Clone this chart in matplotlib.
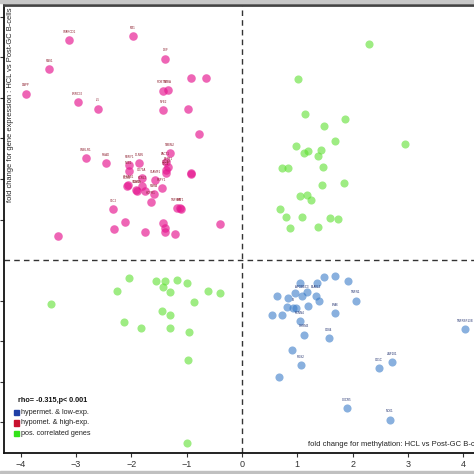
import matplotlib
matplotlib.use("Agg")
import matplotlib.pyplot as plt
from matplotlib.patches import Rectangle

# ---------------- data ----------------
mag_x = [-3.12, -1.97, -1.39, -3.49, -0.93, -0.65, -1.43, -1.34, -3.91, -2.97,
         -2.60, -1.42, -0.98, -0.77, -1.30, -2.82, -2.46, -2.04, -1.86, -2.05,
         -1.38, -1.34, -1.37, -1.38, -0.92, -0.92, -1.81, -1.57, -2.06, -2.08,
         -1.80, -1.92, -1.90, -1.75, -1.45, -1.60, -1.65, -2.33, -1.18, -1.12,
         -1.10, -2.12, -1.43, -1.39, -1.39, -2.31, -1.75, -1.22, -0.40, -3.32]
mag_y = [5.43, 5.53, 4.97, 4.72, 4.49, 4.50, 4.18, 4.20, 4.11, 3.90,
         3.74, 3.70, 3.74, 3.10, 2.64, 2.51, 2.40, 2.35, 2.40, 2.20,
         2.41, 2.30, 2.22, 2.16, 2.12, 2.14, 2.02, 1.97, 1.85, 1.83,
         1.83, 1.73, 1.71, 1.70, 1.77, 1.62, 1.44, 1.25, 1.28, 1.28,
         1.26, 0.94, 0.91, 0.78, 0.68, 0.77, 0.68, 0.65, 0.90, 0.59]
mag_labels = ["SPARCD1", "MT1", "DEF", "RAS1", "", "", "ROBTS1", "NFRA", "DAPP", "LRRC32",
              "IL5", "NFE2", "", "", "TMEM2", "CMKLR1", "PGAD", "FBRY1", "DLNIN", "NKE1",
              "FACT1", "ETFB1", "CD2AP", "SLC4", "", "", "CD79A", "SLAMF1", "STRAB1", "CCR4",
              "FCRL2", "BLK1", "SCARA", "", "PXPY1", "RARA", "HCPR1", "SLC2", "TNFSF9", "MAT1",
              "", "", "", "", "", "", "", "", "", ""]

green_x = [2.29, 1.02, 1.14, 1.86, 1.49, 1.69, 2.94, 0.98, 1.12, 1.19,
           1.43, 1.38, 0.72, 0.84, 1.46, 1.45, 1.84, 1.05, 1.18, 1.24,
           0.69, 0.80, 1.08, 1.59, 1.74, 0.87, 1.37,
           -2.05, -1.55, -1.39, -1.18, -0.99, -1.43, -2.26, -1.30, -0.62, -0.40,
           -0.86, -3.45, -1.44, -1.31, -2.13, -1.82, -1.30, -0.96, -0.98, -1.00]
green_y = [5.33, 4.47, 3.60, 3.47, 3.32, 2.93, 2.87, 2.81, 2.64, 2.70,
           2.72, 2.58, 2.27, 2.27, 2.29, 1.86, 1.91, 1.58, 1.60, 1.48,
           1.26, 1.05, 1.05, 1.04, 1.01, 0.78, 0.81,
           -0.44, -0.52, -0.52, -0.49, -0.58, -0.66, -0.76, -0.78, -0.76, -0.81,
           -1.03, -1.08, -1.26, -1.37, -1.54, -1.68, -1.68, -1.79, -2.46, -4.53]

blue_x = [1.48, 1.68, 1.91, 1.05, 1.35, 0.95, 1.18, 0.64, 0.83, 1.08,
          1.33, 1.39, 2.06, 1.19, 0.82, 0.92, 0.97, 1.68, 0.54, 0.73,
          1.04, 4.03, 1.12, 1.57, 0.91, 1.07, 2.47, 2.72, 0.67, 1.90, 2.67]
blue_y = [-0.41, -0.40, -0.51, -0.58, -0.57, -0.81, -0.80, -0.88, -0.95, -0.88,
          -0.88, -1.00, -1.00, -1.13, -1.17, -1.19, -1.19, -1.32, -1.37, -1.37,
          -1.51, -1.70, -1.84, -1.93, -2.21, -2.60, -2.67, -2.53, -2.88, -3.65, -3.94]
blue_labels = ["", "", "", "", "", "", "", "", "", "APOBEC3",
               "ELAVL2", "", "TNFN1", "", "", "B", "", "LPA6", "", "",
               "KCNN4", "TNFRSF13B", "CHRM3", "CD84", "", "RGS2", "CD1C", "ZNF101", "", "CXCR5", "NCK1"]

legend_labels = ["hypermet. & low-exp.", "hypomet. & high-exp.", "pos. correlated genes"]
legend_colors = ["#1f3fa6", "#c8102e", "#33e21a"]
stat_text = "rho= -0.315,p< 0.001"
xticks = [-4, -3, -2, -1, 0, 1, 2, 3, 4]
yticks = [-4, -3, -2, -1, 1, 2, 3, 4, 5, 6]

# ---------------- figure ----------------
W = H = 474
fig = plt.figure(figsize=(4.74, 4.74), dpi=100)
plt.rcParams['font.family'] = ['Liberation Sans', 'DejaVu Sans']

px_left, px_top, px_bottom = 4, 5, 453
x0_px, px_per_x = 242, 55.3
y0_px, px_per_y = 260, 40.5
xmin = (px_left - x0_px) / px_per_x
xmax = 4.6
ymax = (y0_px - px_top) / px_per_y
ymin = (y0_px - px_bottom) / px_per_y
ax_w = (xmax - xmin) * px_per_x / W
ax = fig.add_axes([px_left / W, (H - px_bottom) / H, ax_w, (px_bottom - px_top) / H])
ax.set_xlim(xmin, xmax)
ax.set_ylim(ymin, ymax)

ax.axhline(0, color="#333333", lw=1.0, ls=(0, (4, 3)), zorder=1)
ax.axvline(0, color="#333333", lw=1.0, ls=(0, (4, 3)), zorder=1)

ax.scatter(mag_x, mag_y, s=38, color="#e6168f", alpha=0.66, lw=0, zorder=3)
ax.scatter(green_x, green_y, s=34, color="#5ee030", alpha=0.6, lw=0, zorder=3)
ax.scatter(blue_x, blue_y, s=34, color="#3a7cc8", alpha=0.6, lw=0, zorder=3)

for x, y, t in zip(mag_x, mag_y, mag_labels):
    if t:
        ax.annotate(t, (x, y), xytext=(0, 4.5), textcoords="offset points",
                    ha="center", va="bottom", fontsize=2.1, color="#8a1a2a", zorder=4)
for x, y, t in zip(blue_x, blue_y, blue_labels):
    if t:
        ax.annotate(t, (x, y), xytext=(0, 4.5), textcoords="offset points",
                    ha="center", va="bottom", fontsize=2.1, color="#1a2a6a", zorder=4)

ax.set_xticks(xticks)
ax.set_xticklabels([("\u2212%d" % -v) if v < 0 else str(v) for v in xticks],
                   fontsize=6.5, color="#333333")
ax.set_yticks(yticks)
ax.set_yticklabels([])
ax.tick_params(direction="out", length=3, width=0.8, colors="#333333", pad=2)

for s in ["left", "bottom"]:
    ax.spines[s].set_linewidth(1.3)
    ax.spines[s].set_color("#111111")
ax.spines["top"].set_linewidth(2.0)
ax.spines["top"].set_color("#444444")
ax.spines["right"].set_visible(False)

fig.text(11 / W, 1 - 105 / H, "fold change for gene expression : HCL vs Post-GC B-cells",
         rotation=90, ha="center", va="center", fontsize=5.4, color="#222222")
fig.text(308 / W, 1 - 445 / H, "fold change for methylation: HCL vs Post-GC B-cells",
         ha="left", va="center", fontsize=5.5, color="#222222")

fig.text(18 / W, 1 - 401 / H, stat_text, ha="left", va="center",
         fontsize=5.2, fontweight="bold", color="#111111")
for i, (lab, col) in enumerate(zip(legend_labels, legend_colors)):
    yc = 412.5 + i * 10.5
    fig.patches.append(Rectangle((13.5 / W, 1 - (yc + 2.8) / H), 5.5 / W, 5.6 / H,
                                 transform=fig.transFigure, color=col, zorder=5))
    fig.text(21 / W, 1 - yc / H, lab, ha="left", va="center", fontsize=5.2, color="#222222")

fig.patches.append(Rectangle((0, 1 - 3 / H), 1, 3 / H, transform=fig.transFigure,
                             color="#c8c8c8", zorder=0))
fig.patches.append(Rectangle((0, 0), 1, 3 / H, transform=fig.transFigure,
                             color="#c0c0c0", zorder=0))

fig.savefig("out.png", dpi=100)
